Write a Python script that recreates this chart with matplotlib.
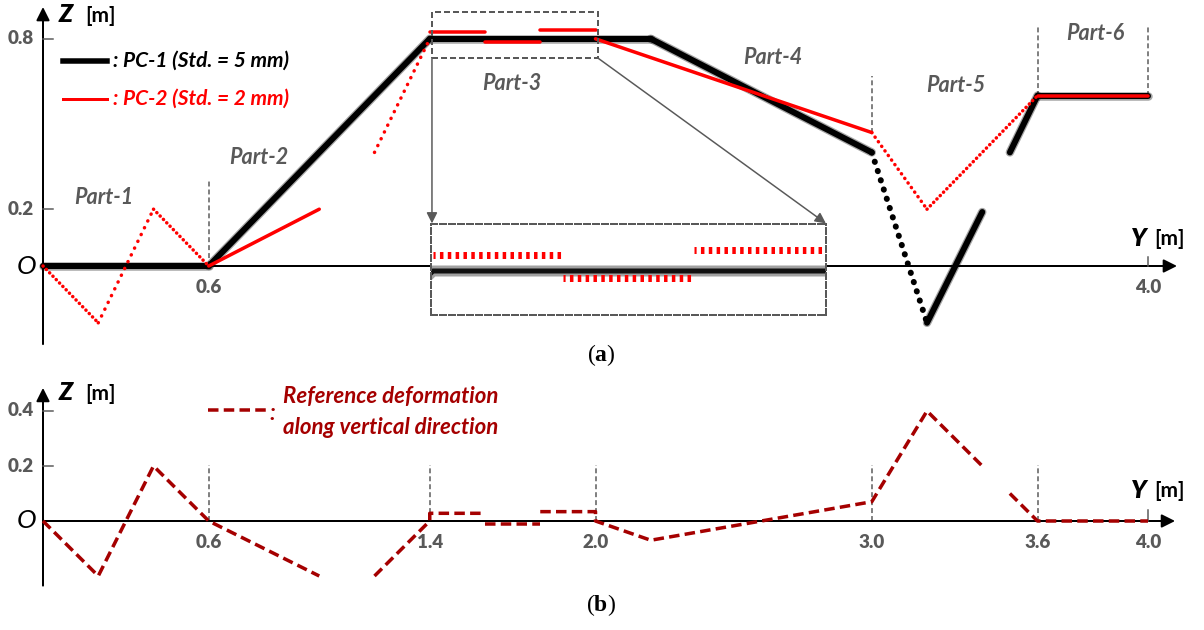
import numpy as np
import matplotlib
matplotlib.use("Agg")
import matplotlib.pyplot as plt
from matplotlib.patches import Rectangle

# ---------------- data ----------------
# PC-1 (Std. = 5 mm): profile vertices along Y [m] / Z [m]
pc1_y_main = [0.0, 0.6, 1.4, 2.2, 3.0, 3.2, 3.4]
pc1_z_main = [0.0, 0.0, 0.8, 0.8, 0.40, -0.20, 0.19]
pc1_y_end = [3.5, 3.6, 4.0]
pc1_z_end = [0.40, 0.60, 0.60]

# PC-2 (Std. = 2 mm)
pc2_y_p12 = [0.0, 0.2, 0.4, 0.6, 1.0]
pc2_z_p12 = [0.0, -0.2, 0.2, 0.0, 0.2]
pc2_y_rise = [1.2, 1.4]
pc2_z_rise = [0.4, 0.8]
pc2_y_p3a = [1.4, 1.6]
pc2_z_p3a = [0.825, 0.825]
pc2_y_p3b = [1.6, 1.8]
pc2_z_p3b = [0.79, 0.79]
pc2_y_p3c = [1.8, 2.0]
pc2_z_p3c = [0.832, 0.832]
pc2_y_p456 = [2.0, 3.0, 3.2, 3.6, 4.0]
pc2_z_p456 = [0.8, 0.47, 0.2, 0.6, 0.6]

# Reference deformation along vertical direction
ref_y_1 = [0.0, 0.2, 0.4, 0.6, 1.0]
ref_z_1 = [0.0, -0.2, 0.2, 0.0, -0.2]
ref_y_2 = [1.2, 1.4, 1.4, 1.6]
ref_z_2 = [-0.2, 0.0, 0.028, 0.028]
ref_y_3 = [1.6, 1.8]
ref_z_3 = [-0.012, -0.012]
ref_y_4 = [1.8, 2.0, 2.0, 2.2, 3.0, 3.2, 3.4]
ref_z_4 = [0.034, 0.034, 0.0, -0.07, 0.07, 0.40, 0.20]
ref_y_5 = [3.5, 3.6, 4.0]
ref_z_5 = [0.10, 0.0, 0.0]

# axis ticks / part boundaries
a_zticks = [0.8, 0.2]
a_yticks = [0.6, 4.0]
b_zticks = [0.4, 0.2]
b_yticks = [0.6, 1.4, 2.0, 3.0, 3.6, 4.0]
a_bounds = [(0.6, 0.0, 0.30), (3.0, 0.47, 0.67), (3.6, 0.60, 0.84), (4.0, 0.60, 0.84)]
b_bounds = [0.6, 1.4, 2.0, 3.0, 3.6]
part_labels = ["Part-1", "Part-2", "Part-3", "Part-4", "Part-5", "Part-6"]

# ---------------- layout ----------------
W, H, DPI = 1204, 630, 100
SX = 276.25   # px per metre along Y
X0 = 43       # px position of Y = 0
GRAY = "#595959"
RED = "#FF0000"
DRED = "#A50000"
FONT = "Lato"

fig = plt.figure(figsize=(W / DPI, H / DPI), dpi=DPI)


def fx(x):
    return x / W


def fy(y):
    return 1 - y / H


def panel(top, bottom, z0_px, sz):
    ax = fig.add_axes([0, 1 - bottom / H, 1, (bottom - top) / H])
    ax.set_xlim(-X0 / SX, (W - X0) / SX)
    ax.set_ylim((z0_px - bottom) / sz, (z0_px - top) / sz)
    ax.axis("off")
    return ax


SZA, SZB = 284.0, 275.0
ax_a = panel(0, 345, 266, SZA)
ax_b = panel(345, 630, 521, SZB)

PX = 0.72  # points per pixel


def draw_cloud(ax, ys, zs, color, lw_px, step_px, sz, z=3, halo=0.0):
    """Point-cloud look: steep stretches break up into separate dots."""
    for i in range(len(ys) - 1):
        dy, dz = ys[i + 1] - ys[i], zs[i + 1] - zs[i]
        s = abs(dz * sz) / max(abs(dy * SX), 1e-9)
        along = step_px * np.hypot(1.0, s)
        kw = dict(color=color, lw=lw_px * PX, zorder=z, solid_capstyle="round")
        if along <= lw_px * 1.2:
            if halo:
                ax.plot(ys[i:i + 2], zs[i:i + 2], color=color, lw=(lw_px + halo) * PX,
                        alpha=0.35, zorder=z, solid_capstyle="round")
            ax.plot(ys[i:i + 2], zs[i:i + 2], **kw)
        else:
            on = 0.05
            ax.plot(ys[i:i + 2], zs[i:i + 2], linestyle=(0, (on, along / lw_px - on)),
                    dash_capstyle="round", **kw)


def axis_arrows(ax, ytip, zlow, ztip):
    ap = dict(arrowstyle="-|>", lw=2 * PX, color="black", mutation_scale=20,
              shrinkA=0, shrinkB=0)
    ax.annotate("", xy=(ytip, 0), xytext=(0, 0), arrowprops=ap, zorder=2)
    ax.annotate("", xy=(0, ztip), xytext=(0, zlow), arrowprops=ap, zorder=2)


def txt(x, y, s, size, color="black", weight="bold", style="normal", ha="center",
        va="center", family=FONT):
    fig.text(fx(x), fy(y), s, fontsize=size, color=color, fontweight=weight,
             fontstyle=style, ha=ha, va=va, family=family)


dash_gray = dict(color=GRAY, lw=1.5 * PX, linestyle=(0, (3.3, 2.0)), zorder=1)
tick_font = dict(fontsize=13.5, color=GRAY, fontweight="heavy", ha="center",
                 va="center", family=FONT)

# ---------------- panel (a) ----------------
axis_arrows(ax_a, 4.105, -0.275, 0.912)
for zt in a_zticks:
    ax_a.plot([0, 10 / SX], [zt, zt], color=GRAY, lw=1.5 * PX)
    ax_a.text(-22 / SX, zt, f"{zt:.1f}", **tick_font)
for yt in a_yticks:
    ax_a.text(yt, -21 / SZA, f"{yt:.1f}", **tick_font)
ax_a.plot([4.0, 4.0], [0, 9 / SZA], color=GRAY, lw=1.5 * PX)
for yb, z1, z2 in a_bounds:
    ax_a.plot([yb, yb], [z1, z2], **dash_gray)

draw_cloud(ax_a, pc1_y_main, pc1_z_main, "black", 6, 3.0, SZA, z=3, halo=2.5)
draw_cloud(ax_a, pc1_y_end, pc1_z_end, "black", 6, 3.0, SZA, z=3, halo=2.5)
for ys, zs in [(pc2_y_p12, pc2_z_p12), (pc2_y_rise, pc2_z_rise), (pc2_y_p3a, pc2_z_p3a),
               (pc2_y_p3b, pc2_z_p3b), (pc2_y_p3c, pc2_z_p3c), (pc2_y_p456, pc2_z_p456)]:
    draw_cloud(ax_a, ys, zs, RED, 3.5, 3.3, SZA, z=4)

# zoom box and arrows to the enlarged view of Part-3
ax_a.add_patch(Rectangle((1.408, 0.732), 2.009 - 1.408, 0.894 - 0.732, fill=False,
                         edgecolor=GRAY, lw=2 * PX, linestyle=(0, (3, 1.5)), zorder=5))
ap_g = dict(arrowstyle="-|>", lw=1.5 * PX, color=GRAY, mutation_scale=16,
            shrinkA=0, shrinkB=0)
ax_a.annotate("", xy=(1.408, 0.150), xytext=(1.408, 0.732), arrowprops=ap_g, zorder=5)
ax_a.annotate("", xy=(2.834, 0.150), xytext=(2.009, 0.732), arrowprops=ap_g, zorder=5)

# legend
ax_a.plot([0.072, 0.232], [0.722, 0.722], color="black", lw=5.5 * PX, zorder=3)
ax_a.plot([0.072, 0.232], [0.588, 0.588], color=RED, lw=3 * PX, zorder=3)
txt(113, 61, ": PC-1 (Std. = 5 mm)", 15, style="italic", ha="left")
txt(113, 99, ": PC-2 (Std. = 2 mm)", 15, color=RED, style="italic", ha="left")

# part labels
for lab, (x, y) in zip(part_labels, [(104, 198), (259, 158), (512, 84), (773, 57),
                                     (956, 85), (1095, 33)]):
    txt(x, y, lab, 15.5, color=GRAY, style="italic")

# axis names
txt(27, 266, "O", 19, weight="normal", style="italic")
txt(66, 15, "Z", 18, weight="heavy", style="italic")
txt(85, 16, "[m]", 15, ha="left")
txt(1139, 238, "Y", 18, weight="heavy", style="italic")
txt(1154, 239, "[m]", 15, ha="left")

# enlarged view of Part-3
ax_in = fig.add_axes([fx(431), fy(315), (826 - 431) / W, (315 - 224) / H])
ax_in.set_xlim(1.4 - 2 / 651.7, 1.4 + 393 / 651.7)
ax_in.set_ylim(0.8 - 44 / 650.0, 0.8 + 47 / 650.0)
ax_in.set_xticks([])
ax_in.set_yticks([])
ax_in.set_facecolor("white")
for sp in ax_in.spines.values():
    sp.set_color(GRAY)
    sp.set_linewidth(2 * PX)
    sp.set_linestyle((0, (3, 1.5)))
ax_in.plot(pc1_y_main, pc1_z_main, color="#444444", lw=11 * PX, alpha=0.5, zorder=2)
ax_in.plot(pc1_y_main, pc1_z_main, color="#111111", lw=5 * PX, zorder=2)
for ys, zs in [(pc2_y_p3a, pc2_z_p3a), (pc2_y_p3b, pc2_z_p3b), (pc2_y_p3c, pc2_z_p3c)]:
    ax_in.plot(ys, zs, color=RED, lw=7 * PX, linestyle=(0.2, (0.5, 0.62)),
               dash_capstyle="butt", zorder=3)

# ---------------- panel (b) ----------------
axis_arrows(ax_b, 4.098, -0.235, 0.484)
for zt in b_zticks:
    ax_b.plot([0, 10 / SX], [zt, zt], color=GRAY, lw=1.5 * PX)
    ax_b.text(-22 / SX, zt, f"{zt:.1f}", **tick_font)
for yt in b_yticks:
    ax_b.text(yt, -21 / SZB, f"{yt:.1f}", **tick_font)
ax_b.plot([4.0, 4.0], [0, 11 / SZB], color=GRAY, lw=1.5 * PX)
for yb in b_bounds:
    ax_b.plot([yb, yb], [0, 0.204], **dash_gray)

ref_style = dict(color=DRED, lw=3.5 * PX, linestyle=(0, (3, 1.5)), zorder=3)
for ys, zs in [(ref_y_1, ref_z_1), (ref_y_2, ref_z_2), (ref_y_3, ref_z_3),
               (ref_y_4, ref_z_4), (ref_y_5, ref_z_5)]:
    ax_b.plot(ys, zs, **ref_style)

ax_b.plot([0.597, 0.811], [0.404, 0.404], **ref_style)
txt(272, 413, ":", 16, color=DRED, style="italic")
txt(283, 397, "Reference deformation", 16, color=DRED, style="italic", ha="left")
txt(283, 428, "along vertical direction", 16, color=DRED, style="italic", ha="left")

txt(27, 521, "O", 19, weight="normal", style="italic")
txt(66, 393, "Z", 18, weight="heavy", style="italic")
txt(85, 394, "[m]", 15, ha="left")
txt(1139, 490, "Y", 18, weight="heavy", style="italic")
txt(1154, 491, "[m]", 15, ha="left")

# sub-figure captions
plt.rcParams["mathtext.fontset"] = "custom"
plt.rcParams["mathtext.rm"] = "Liberation Serif"
plt.rcParams["mathtext.bf"] = "Liberation Serif:bold"
for cap, y in [("a", 355), ("b", 605)]:
    fig.text(fx(601), fy(y), r"$\mathrm{(}\mathbf{" + cap + r"}\mathrm{)}$",
             fontsize=17, ha="center", va="center")

fig.savefig("out.png", dpi=DPI)
